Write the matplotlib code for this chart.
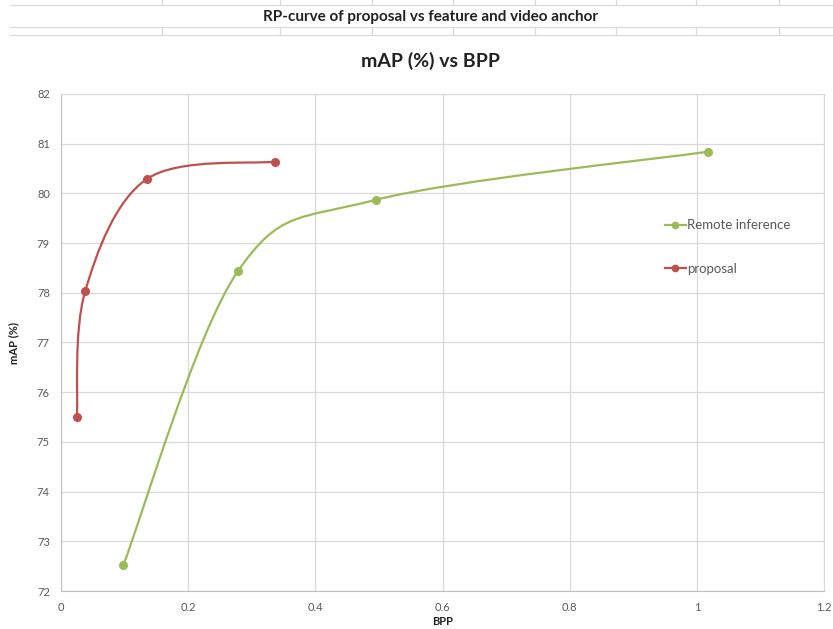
import matplotlib
matplotlib.use("Agg")
import matplotlib.pyplot as plt
import numpy as np
from matplotlib.path import Path
from matplotlib.patches import PathPatch
from matplotlib.lines import Line2D

plt.rcParams['font.family'] = ['Lato', 'DejaVu Sans']

# data
remote_bpp = [0.098, 0.278, 0.495, 1.018]
remote_map = [72.52, 78.43, 79.87, 80.84]
proposal_bpp = [0.025, 0.038, 0.135, 0.337]
proposal_map = [75.51, 78.03, 80.29, 80.64]

series_names = ["Remote inference", "proposal"]
series_colors = ["#9BBB59", "#C0504D"]
x_ticks = [0, 0.2, 0.4, 0.6, 0.8, 1, 1.2]
x_tick_labels = ["0", "0.2", "0.4", "0.6", "0.8", "1", "1.2"]
y_ticks = list(range(72, 83))

sheet_title = "RP-curve of proposal vs feature and video anchor"
chart_title = "mAP (%) vs BPP"


def smooth_path(xs, ys):
    # excel style smoothed line: catmull-rom turned into bezier segments
    p = np.column_stack([xs, ys]).astype(float)
    n = len(p)
    verts = [p[0]]
    codes = [Path.MOVETO]
    for i in range(n - 1):
        p0 = p[i - 1] if i > 0 else p[i]
        p3 = p[i + 2] if i + 2 < n else p[i + 1]
        c1 = p[i] + (p[i + 1] - p0) / 6.0
        c2 = p[i + 1] - (p3 - p[i]) / 6.0
        verts += [c1, c2, p[i + 1]]
        codes += [Path.CURVE4] * 3
    return Path(verts, codes)


fig = plt.figure(figsize=(8.33, 6.29), dpi=100)
fig.patch.set_facecolor("white")

# spreadsheet cells around the sheet title
cell_col = "#dadada"
for yy in [1 - 5 / 629, 1 - 27 / 629, 1 - 35 / 629]:
    fig.add_artist(Line2D([10 / 833, 1], [yy, yy], color=cell_col, lw=0.9))
for xx in [162, 280, 372, 453, 535, 616, 696, 779]:
    fig.add_artist(Line2D([xx / 833, xx / 833], [1, 1 - 5 / 629], color=cell_col, lw=0.9))
    fig.add_artist(Line2D([xx / 833, xx / 833], [1 - 27 / 629, 1 - 35 / 629], color=cell_col, lw=0.9))
fig.text(430 / 833, 1 - 17 / 629, sheet_title, ha="center", va="center",
         fontsize=11, fontweight="bold", color="#222222")

ax = fig.add_axes([61 / 833, 1 - 591 / 629, 763 / 833, 497 / 629])
ax.set_xlim(0, 1.2)
ax.set_ylim(72, 82)
ax.set_xticks(x_ticks)
ax.set_xticklabels(x_tick_labels)
ax.set_yticks(y_ticks)
ax.grid(True, color="#d9d9d9", lw=0.9)
ax.set_axisbelow(True)
for side in ["top", "right"]:
    ax.spines[side].set_color("#d9d9d9")
for side in ["left", "bottom"]:
    ax.spines[side].set_color("#bfbfbf")
ax.tick_params(length=0, labelsize=8, labelcolor="#595959", pad=8)

for xs, ys, name, col in [(remote_bpp, remote_map, series_names[0], series_colors[0]),
                          (proposal_bpp, proposal_map, series_names[1], series_colors[1])]:
    ax.add_patch(PathPatch(smooth_path(xs, ys), facecolor="none", edgecolor=col, lw=1.6))
    ax.plot(xs, ys, "o", color=col, markersize=5.5)

handles = [Line2D([], [], color=c, lw=1.6, marker="o", markersize=4.5) for c in series_colors]
ax.legend(handles, series_names, loc="center left", bbox_to_anchor=(653 / 833, 1 - 247 / 629),
          bbox_transform=fig.transFigure, frameon=False, fontsize=9.5, labelcolor="#595959",
          handlelength=1.6, handletextpad=0.1, labelspacing=2.4)

ax.set_xlabel("BPP", fontsize=8, fontweight="bold", color="#222222", labelpad=2)
ax.set_ylabel("mAP (%)", fontsize=8, fontweight="bold", color="#222222", labelpad=13)
fig.text(431 / 833, 1 - 61 / 629, chart_title, ha="center", va="center",
         fontsize=14, fontweight="bold", color="#222222")

fig.savefig("out.png", dpi=100)
